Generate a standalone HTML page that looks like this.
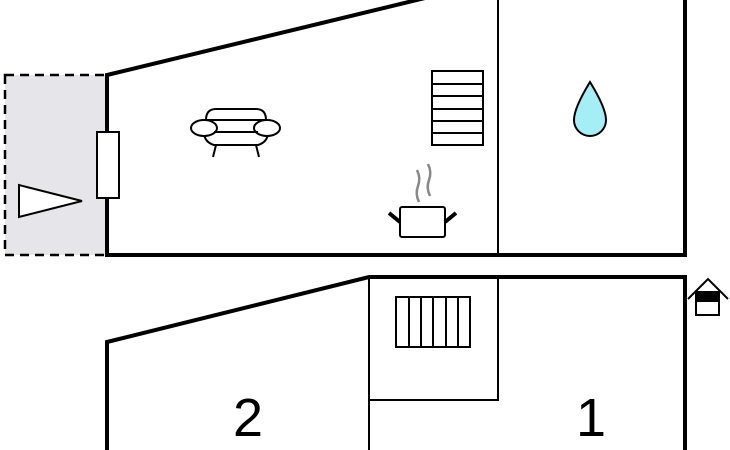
<!DOCTYPE html>
<html><head><style>html,body{margin:0;padding:0;background:#fff;width:730px;height:450px;overflow:hidden}</style></head>
<body>
<svg width="730" height="450" viewBox="0 0 730 450" xmlns="http://www.w3.org/2000/svg">
<rect x="5" y="75" width="102" height="180" fill="#e6e6ea" stroke="#000" stroke-width="2.5" stroke-dasharray="9,6"/>
<polygon points="19,185 19,217 82,201" fill="#fff" stroke="#000" stroke-width="2"/>
<line x1="498" y1="0" x2="498" y2="255" stroke="#000" stroke-width="2"/>
<polyline points="107,255 107,75 425,-2" fill="none" stroke="#000" stroke-width="4"/>
<polyline points="105,255 685,255 685,0" fill="none" stroke="#000" stroke-width="4"/>
<rect x="97" y="132" width="22" height="66" fill="#fff" stroke="#000" stroke-width="2"/>
<g fill="#fff" stroke="#000" stroke-width="2">
<path d="M206,120 Q206,109 216,109 L256,109 Q266,109 266,120 Z"/>
<path d="M204,132 Q204,142 214,145 L258,145 Q268,142 268,132 Z"/>
<ellipse cx="204" cy="128" rx="13" ry="8"/>
<ellipse cx="267" cy="128" rx="13" ry="8"/>
<line x1="216" y1="145" x2="213" y2="157"/>
<line x1="256" y1="145" x2="259" y2="157"/>
<line x1="214" y1="132" x2="258" y2="132"/>
</g>
<g fill="none" stroke="#000" stroke-width="2">
<rect x="432" y="71" width="51" height="74"/>
<line x1="432" y1="84" x2="483" y2="84"/><line x1="432" y1="96" x2="483" y2="96"/>
<line x1="432" y1="109" x2="483" y2="109"/><line x1="432" y1="121" x2="483" y2="121"/>
<line x1="432" y1="133" x2="483" y2="133"/>
</g>
<path d="M590,82 Q606,108 606,120 A16,16 0 0 1 574,120 Q574,108 590,82 Z" fill="#a6eef6" stroke="#000" stroke-width="2"/>
<g stroke="#888" stroke-width="2.5" fill="none">
<path d="M419,202 Q415,194 418,186 Q421,178 417,170"/>
<path d="M430,196 Q426,188 429,180 Q432,172 428,164"/>
</g>
<rect x="400" y="207" width="45" height="30" rx="2" fill="#fff" stroke="#000" stroke-width="2"/>
<line x1="389" y1="213" x2="400" y2="222" stroke="#000" stroke-width="4"/>
<line x1="456" y1="213" x2="445" y2="222" stroke="#000" stroke-width="4"/>
<g stroke="#000" stroke-width="2" fill="none">
<line x1="369" y1="277" x2="369" y2="450"/>
<polyline points="369,400 498,400 498,277"/>
<rect x="396" y="297" width="74" height="50"/>
<line x1="409" y1="297" x2="409" y2="347"/><line x1="421" y1="297" x2="421" y2="347"/>
<line x1="433" y1="297" x2="433" y2="347"/><line x1="446" y1="297" x2="446" y2="347"/>
<line x1="458" y1="297" x2="458" y2="347"/>
</g>
<polyline points="107,452 107,342 369,277 685,277 685,452" fill="none" stroke="#000" stroke-width="4"/>
<text x="248" y="436" font-family="Liberation Sans, sans-serif" font-size="54" text-anchor="middle">2</text>
<text x="591" y="436" font-family="Liberation Sans, sans-serif" font-size="54" text-anchor="middle">1</text>
<polyline points="688,299 708,279 728,299" fill="none" stroke="#000" stroke-width="2"/>
<rect x="696" y="292" width="23" height="23" fill="#fff" stroke="#000" stroke-width="2"/>
<rect x="696" y="292" width="23" height="10" fill="#000"/>
</svg>
</body></html>
